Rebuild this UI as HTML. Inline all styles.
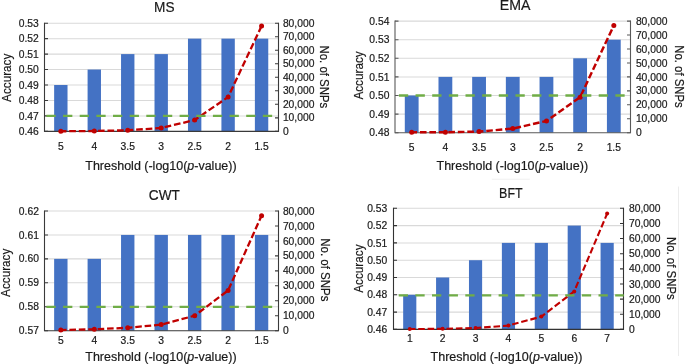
<!DOCTYPE html>
<html><head><meta charset="utf-8"><style>
html,body{margin:0;padding:0;background:#fff;}
svg{display:block;font-family:"Liberation Sans", sans-serif;will-change:transform;}
</style></head><body>
<svg width="685" height="364" viewBox="0 0 685 364">
<rect width="685" height="364" fill="#fff"/>
<g><line x1="44.5" y1="115.9" x2="278.5" y2="115.9" stroke="#d9d9d9" stroke-width="1.05"/><line x1="44.5" y1="100.45" x2="278.5" y2="100.45" stroke="#d9d9d9" stroke-width="1.05"/><line x1="44.5" y1="85" x2="278.5" y2="85" stroke="#d9d9d9" stroke-width="1.05"/><line x1="44.5" y1="69.55" x2="278.5" y2="69.55" stroke="#d9d9d9" stroke-width="1.05"/><line x1="44.5" y1="54.1" x2="278.5" y2="54.1" stroke="#d9d9d9" stroke-width="1.05"/><line x1="44.5" y1="38.65" x2="278.5" y2="38.65" stroke="#d9d9d9" stroke-width="1.05"/><line x1="44.5" y1="23.2" x2="278.5" y2="23.2" stroke="#d9d9d9" stroke-width="1.05"/><rect x="54.14" y="85" width="13.38" height="46.35" fill="#4472C4"/><rect x="87.59" y="69.55" width="13.38" height="61.8" fill="#4472C4"/><rect x="121.05" y="54.1" width="13.38" height="77.25" fill="#4472C4"/><rect x="154.51" y="54.1" width="13.38" height="77.25" fill="#4472C4"/><rect x="187.97" y="38.65" width="13.38" height="92.7" fill="#4472C4"/><rect x="221.42" y="38.65" width="13.38" height="92.7" fill="#4472C4"/><rect x="254.88" y="38.65" width="13.38" height="92.7" fill="#4472C4"/><path d="M44.5 22.7V131.35H278.5V22.7" fill="none" stroke="#3a3a3a" stroke-width="1.1"/><path d="M44.5 131.35h3.5 M44.5 115.9h3.5 M44.5 100.45h3.5 M44.5 85h3.5 M44.5 69.55h3.5 M44.5 54.1h3.5 M44.5 38.65h3.5 M44.5 23.2h3.5 M278.5 131.35h-3.5 M278.5 117.83h-3.5 M278.5 104.31h-3.5 M278.5 90.79h-3.5 M278.5 77.28h-3.5 M278.5 63.76h-3.5 M278.5 50.24h-3.5 M278.5 36.72h-3.5 M278.5 23.2h-3.5" fill="none" stroke="#3a3a3a" stroke-width="1.1"/><path d="M60.83 131.27 L94.29 131 L127.74 130.25 L161.2 128 L194.66 120.05 L228.11 97 L261.57 26" fill="none" stroke="#C00000" stroke-width="2.3" stroke-dasharray="6.69 2.87" stroke-dashoffset="1.15" stroke-linejoin="round"/><circle cx="60.83" cy="131.27" r="2.5" fill="#C00000"/><circle cx="94.29" cy="131" r="2.5" fill="#C00000"/><circle cx="127.74" cy="130.25" r="2.5" fill="#C00000"/><circle cx="161.2" cy="128" r="2.5" fill="#C00000"/><circle cx="194.66" cy="120.05" r="2.5" fill="#C00000"/><circle cx="228.11" cy="97" r="2.5" fill="#C00000"/><circle cx="261.57" cy="26" r="2.5" fill="#C00000"/><line x1="46.4" y1="115.8" x2="277.5" y2="115.8" stroke="#70AD47" stroke-width="2.2" stroke-dasharray="9.3 7.35"/></g>
<g fill="#1a1a1a" stroke="#1a1a1a" stroke-width="0.2"><text x="38.75" y="134.95" text-anchor="end" font-size="10.3">0.46</text><text x="38.75" y="119.5" text-anchor="end" font-size="10.3">0.47</text><text x="38.75" y="104.05" text-anchor="end" font-size="10.3">0.48</text><text x="38.75" y="88.6" text-anchor="end" font-size="10.3">0.49</text><text x="38.75" y="73.15" text-anchor="end" font-size="10.3">0.50</text><text x="38.75" y="57.7" text-anchor="end" font-size="10.3">0.51</text><text x="38.75" y="42.25" text-anchor="end" font-size="10.3">0.52</text><text x="38.75" y="26.8" text-anchor="end" font-size="10.3">0.53</text><text x="282.9" y="134.95" font-size="10.3">0</text><text x="282.9" y="121.43" font-size="10.3">10,000</text><text x="282.9" y="107.91" font-size="10.3">20,000</text><text x="282.9" y="94.39" font-size="10.3">30,000</text><text x="282.9" y="80.88" font-size="10.3">40,000</text><text x="282.9" y="67.36" font-size="10.3">50,000</text><text x="282.9" y="53.84" font-size="10.3">60,000</text><text x="282.9" y="40.32" font-size="10.3">70,000</text><text x="282.9" y="26.8" font-size="10.3">80,000</text><text x="60.83" y="150.2" text-anchor="middle" font-size="10.3">5</text><text x="94.29" y="150.2" text-anchor="middle" font-size="10.3">4</text><text x="127.74" y="150.2" text-anchor="middle" font-size="10.3">3.5</text><text x="161.2" y="150.2" text-anchor="middle" font-size="10.3">3</text><text x="194.66" y="150.2" text-anchor="middle" font-size="10.3">2.5</text><text x="228.11" y="150.2" text-anchor="middle" font-size="10.3">2</text><text x="261.57" y="150.2" text-anchor="middle" font-size="10.3">1.5</text><text x="85.3" y="169.5" font-size="12.5" textLength="151.3" lengthAdjust="spacingAndGlyphs">Threshold (-log10(<tspan font-style="italic">p</tspan>-value))</text><text x="154.05" y="12.3" font-size="15.2" textLength="20.45" lengthAdjust="spacingAndGlyphs">MS</text><text transform="translate(10.9 101.9) rotate(-90)" x="0" y="0" font-size="12.5" textLength="48.25" lengthAdjust="spacingAndGlyphs">Accuracy</text><text transform="translate(319.7 45.5) rotate(90)" x="0" y="0" font-size="12.5" textLength="62.7" lengthAdjust="spacingAndGlyphs">No. of SNPs</text></g>
<g><line x1="395" y1="114.1" x2="630.5" y2="114.1" stroke="#d9d9d9" stroke-width="1.05"/><line x1="395" y1="95.5" x2="630.5" y2="95.5" stroke="#d9d9d9" stroke-width="1.05"/><line x1="395" y1="76.9" x2="630.5" y2="76.9" stroke="#d9d9d9" stroke-width="1.05"/><line x1="395" y1="58.3" x2="630.5" y2="58.3" stroke="#d9d9d9" stroke-width="1.05"/><line x1="395" y1="39.7" x2="630.5" y2="39.7" stroke="#d9d9d9" stroke-width="1.05"/><line x1="395" y1="21.1" x2="630.5" y2="21.1" stroke="#d9d9d9" stroke-width="1.05"/><rect x="404.8" y="95.5" width="13.8" height="37.2" fill="#4472C4"/><rect x="438.49" y="76.9" width="13.8" height="55.8" fill="#4472C4"/><rect x="472.17" y="76.9" width="13.8" height="55.8" fill="#4472C4"/><rect x="505.86" y="76.9" width="13.8" height="55.8" fill="#4472C4"/><rect x="539.55" y="76.9" width="13.8" height="55.8" fill="#4472C4"/><rect x="573.23" y="58.3" width="13.8" height="74.4" fill="#4472C4"/><rect x="606.92" y="39.7" width="13.8" height="93" fill="#4472C4"/><path d="M395 20.6V132.7H630.5V20.6" fill="none" stroke="#595959" stroke-width="1.1"/><path d="M395 132.7h3.5 M395 114.1h3.5 M395 95.5h3.5 M395 76.9h3.5 M395 58.3h3.5 M395 39.7h3.5 M395 21.1h3.5 M630.5 132.7h-3.5 M630.5 118.75h-3.5 M630.5 104.8h-3.5 M630.5 90.85h-3.5 M630.5 76.9h-3.5 M630.5 62.95h-3.5 M630.5 49h-3.5 M630.5 35.05h-3.5 M630.5 21.1h-3.5" fill="none" stroke="#595959" stroke-width="1.1"/><path d="M411.7 132.35 L445.39 132.21 L479.07 131.58 L512.76 128.6 L546.45 120.98 L580.13 97.2 L613.82 25.42" fill="none" stroke="#C00000" stroke-width="2.45" stroke-dasharray="6.64 2.84" stroke-dashoffset="1.28" stroke-linejoin="round"/><circle cx="411.7" cy="132.35" r="2.5" fill="#C00000"/><circle cx="445.39" cy="132.21" r="2.5" fill="#C00000"/><circle cx="479.07" cy="131.58" r="2.5" fill="#C00000"/><circle cx="512.76" cy="128.6" r="2.5" fill="#C00000"/><circle cx="546.45" cy="120.98" r="2.5" fill="#C00000"/><circle cx="580.13" cy="97.2" r="2.5" fill="#C00000"/><circle cx="613.82" cy="25.42" r="2.5" fill="#C00000"/><line x1="398.9" y1="95.5" x2="629.5" y2="95.5" stroke="#70AD47" stroke-width="2.6" stroke-dasharray="9.3 7.35"/></g>
<g fill="#1a1a1a" stroke="#1a1a1a" stroke-width="0.2"><text x="389.4" y="136.3" text-anchor="end" font-size="10.3">0.48</text><text x="389.4" y="117.7" text-anchor="end" font-size="10.3">0.49</text><text x="389.4" y="99.1" text-anchor="end" font-size="10.3">0.50</text><text x="389.4" y="80.5" text-anchor="end" font-size="10.3">0.51</text><text x="389.4" y="61.9" text-anchor="end" font-size="10.3">0.52</text><text x="389.4" y="43.3" text-anchor="end" font-size="10.3">0.53</text><text x="389.4" y="24.7" text-anchor="end" font-size="10.3">0.54</text><text x="635.9" y="136.3" font-size="10.3">0</text><text x="635.9" y="122.35" font-size="10.3">10,000</text><text x="635.9" y="108.4" font-size="10.3">20,000</text><text x="635.9" y="94.45" font-size="10.3">30,000</text><text x="635.9" y="80.5" font-size="10.3">40,000</text><text x="635.9" y="66.55" font-size="10.3">50,000</text><text x="635.9" y="52.6" font-size="10.3">60,000</text><text x="635.9" y="38.65" font-size="10.3">70,000</text><text x="635.9" y="24.7" font-size="10.3">80,000</text><text x="411.7" y="151" text-anchor="middle" font-size="10.3">5</text><text x="445.39" y="151" text-anchor="middle" font-size="10.3">4</text><text x="479.07" y="151" text-anchor="middle" font-size="10.3">3.5</text><text x="512.76" y="151" text-anchor="middle" font-size="10.3">3</text><text x="546.45" y="151" text-anchor="middle" font-size="10.3">2.5</text><text x="580.13" y="151" text-anchor="middle" font-size="10.3">2</text><text x="613.82" y="151" text-anchor="middle" font-size="10.3">1.5</text><text x="436.5" y="170" font-size="12.5" textLength="151.6" lengthAdjust="spacingAndGlyphs">Threshold (-log10(<tspan font-style="italic">p</tspan>-value))</text><text x="499.7" y="10.35" font-size="15.2" textLength="30.7" lengthAdjust="spacingAndGlyphs">EMA</text><text transform="translate(363.2 99.6) rotate(-90)" x="0" y="0" font-size="12.5" textLength="48.3" lengthAdjust="spacingAndGlyphs">Accuracy</text><text transform="translate(675.1 45.3) rotate(90)" x="0" y="0" font-size="12.5" textLength="62.4" lengthAdjust="spacingAndGlyphs">No. of SNPs</text></g>
<g><line x1="44.5" y1="306.76" x2="278.5" y2="306.76" stroke="#d9d9d9" stroke-width="1.05"/><line x1="44.5" y1="282.82" x2="278.5" y2="282.82" stroke="#d9d9d9" stroke-width="1.05"/><line x1="44.5" y1="258.88" x2="278.5" y2="258.88" stroke="#d9d9d9" stroke-width="1.05"/><line x1="44.5" y1="234.94" x2="278.5" y2="234.94" stroke="#d9d9d9" stroke-width="1.05"/><line x1="44.5" y1="211" x2="278.5" y2="211" stroke="#d9d9d9" stroke-width="1.05"/><rect x="54.14" y="258.88" width="13.38" height="71.82" fill="#4472C4"/><rect x="87.59" y="258.88" width="13.38" height="71.82" fill="#4472C4"/><rect x="121.05" y="234.94" width="13.38" height="95.76" fill="#4472C4"/><rect x="154.51" y="234.94" width="13.38" height="95.76" fill="#4472C4"/><rect x="187.97" y="234.94" width="13.38" height="95.76" fill="#4472C4"/><rect x="221.42" y="234.94" width="13.38" height="95.76" fill="#4472C4"/><rect x="254.88" y="234.94" width="13.38" height="95.76" fill="#4472C4"/><path d="M44.5 210.5V330.7H278.5V210.5" fill="none" stroke="#3a3a3a" stroke-width="1.1"/><path d="M44.5 330.7h3.5 M44.5 306.76h3.5 M44.5 282.82h3.5 M44.5 258.88h3.5 M44.5 234.94h3.5 M44.5 211h3.5 M278.5 330.7h-3.5 M278.5 315.74h-3.5 M278.5 300.77h-3.5 M278.5 285.81h-3.5 M278.5 270.85h-3.5 M278.5 255.89h-3.5 M278.5 240.93h-3.5 M278.5 225.96h-3.5 M278.5 211h-3.5" fill="none" stroke="#3a3a3a" stroke-width="1.1"/><path d="M60.83 330.06 L94.29 329.29 L127.74 327.8 L161.2 324.6 L194.66 315.69 L228.11 290.45 L261.57 215.64" fill="none" stroke="#C00000" stroke-width="2.3" stroke-dasharray="6.59 2.83" stroke-dashoffset="0.85" stroke-linejoin="round"/><circle cx="60.83" cy="330.06" r="2.5" fill="#C00000"/><circle cx="94.29" cy="329.29" r="2.5" fill="#C00000"/><circle cx="127.74" cy="327.8" r="2.5" fill="#C00000"/><circle cx="161.2" cy="324.6" r="2.5" fill="#C00000"/><circle cx="194.66" cy="315.69" r="2.5" fill="#C00000"/><circle cx="228.11" cy="290.45" r="2.5" fill="#C00000"/><circle cx="261.57" cy="215.64" r="2.5" fill="#C00000"/><line x1="46.4" y1="306.8" x2="277.5" y2="306.8" stroke="#70AD47" stroke-width="2.2" stroke-dasharray="9.3 7.35"/></g>
<g fill="#1a1a1a" stroke="#1a1a1a" stroke-width="0.2"><text x="38.9" y="334.3" text-anchor="end" font-size="10.3">0.57</text><text x="38.9" y="310.36" text-anchor="end" font-size="10.3">0.58</text><text x="38.9" y="286.42" text-anchor="end" font-size="10.3">0.59</text><text x="38.9" y="262.48" text-anchor="end" font-size="10.3">0.60</text><text x="38.9" y="238.54" text-anchor="end" font-size="10.3">0.61</text><text x="38.9" y="214.6" text-anchor="end" font-size="10.3">0.62</text><text x="282.9" y="334.3" font-size="10.3">0</text><text x="282.9" y="319.34" font-size="10.3">10,000</text><text x="282.9" y="304.38" font-size="10.3">20,000</text><text x="282.9" y="289.41" font-size="10.3">30,000</text><text x="282.9" y="274.45" font-size="10.3">40,000</text><text x="282.9" y="259.49" font-size="10.3">50,000</text><text x="282.9" y="244.53" font-size="10.3">60,000</text><text x="282.9" y="229.56" font-size="10.3">70,000</text><text x="282.9" y="214.6" font-size="10.3">80,000</text><text x="60.83" y="344" text-anchor="middle" font-size="10.3">5</text><text x="94.29" y="344" text-anchor="middle" font-size="10.3">4</text><text x="127.74" y="344" text-anchor="middle" font-size="10.3">3.5</text><text x="161.2" y="344" text-anchor="middle" font-size="10.3">3</text><text x="194.66" y="344" text-anchor="middle" font-size="10.3">2.5</text><text x="228.11" y="344" text-anchor="middle" font-size="10.3">2</text><text x="261.57" y="344" text-anchor="middle" font-size="10.3">1.5</text><text x="85.3" y="361.3" font-size="12.5" textLength="151.3" lengthAdjust="spacingAndGlyphs">Threshold (-log10(<tspan font-style="italic">p</tspan>-value))</text><text x="148.8" y="199.6" font-size="15.2" textLength="31" lengthAdjust="spacingAndGlyphs">CWT</text><text transform="translate(9.8 296.9) rotate(-90)" x="0" y="0" font-size="12.5" textLength="48.25" lengthAdjust="spacingAndGlyphs">Accuracy</text><text transform="translate(321.1 238.25) rotate(90)" x="0" y="0" font-size="12.5" textLength="63.25" lengthAdjust="spacingAndGlyphs">No. of SNPs</text></g>
<g><line x1="393.5" y1="312.1" x2="623.5" y2="312.1" stroke="#d9d9d9" stroke-width="1.05"/><line x1="393.5" y1="294.8" x2="623.5" y2="294.8" stroke="#d9d9d9" stroke-width="1.05"/><line x1="393.5" y1="277.5" x2="623.5" y2="277.5" stroke="#d9d9d9" stroke-width="1.05"/><line x1="393.5" y1="260.2" x2="623.5" y2="260.2" stroke="#d9d9d9" stroke-width="1.05"/><line x1="393.5" y1="242.9" x2="623.5" y2="242.9" stroke="#d9d9d9" stroke-width="1.05"/><line x1="393.5" y1="225.6" x2="623.5" y2="225.6" stroke="#d9d9d9" stroke-width="1.05"/><line x1="393.5" y1="208.3" x2="623.5" y2="208.3" stroke="#d9d9d9" stroke-width="1.05"/><rect x="403.17" y="294.8" width="13.16" height="34.6" fill="#4472C4"/><rect x="436.07" y="277.5" width="13.16" height="51.9" fill="#4472C4"/><rect x="468.97" y="260.2" width="13.16" height="69.2" fill="#4472C4"/><rect x="501.87" y="242.9" width="13.16" height="86.5" fill="#4472C4"/><rect x="534.77" y="242.9" width="13.16" height="86.5" fill="#4472C4"/><rect x="567.67" y="225.6" width="13.16" height="103.8" fill="#4472C4"/><rect x="600.57" y="242.9" width="13.16" height="86.5" fill="#4472C4"/><path d="M393.5 207.8V329.4H623.5V207.8" fill="none" stroke="#333333" stroke-width="1.1"/><path d="M393.5 329.4h3.5 M393.5 312.1h3.5 M393.5 294.8h3.5 M393.5 277.5h3.5 M393.5 260.2h3.5 M393.5 242.9h3.5 M393.5 225.6h3.5 M393.5 208.3h3.5 M623.5 329.4h-3.5 M623.5 314.26h-3.5 M623.5 299.12h-3.5 M623.5 283.99h-3.5 M623.5 268.85h-3.5 M623.5 253.71h-3.5 M623.5 238.57h-3.5 M623.5 223.44h-3.5 M623.5 208.3h-3.5" fill="none" stroke="#333333" stroke-width="1.1"/><path d="M409.75 329.05 L442.65 328.8 L475.55 328 L508.45 325.6 L541.35 316.6 L574.25 291.4 L607.15 213.6" fill="none" stroke="#C00000" stroke-width="2.1" stroke-dasharray="6.59 2.83" stroke-dashoffset="0.97" stroke-linejoin="round"/><circle cx="409.75" cy="329.05" r="2.0" fill="#C00000"/><circle cx="442.65" cy="328.8" r="2.0" fill="#C00000"/><circle cx="475.55" cy="328" r="2.0" fill="#C00000"/><circle cx="508.45" cy="325.6" r="2.0" fill="#C00000"/><circle cx="541.35" cy="316.6" r="2.0" fill="#C00000"/><circle cx="574.25" cy="291.4" r="2.0" fill="#C00000"/><circle cx="607.15" cy="213.6" r="2.0" fill="#C00000"/><line x1="398.7" y1="295.3" x2="623.8" y2="295.3" stroke="#70AD47" stroke-width="2.2" stroke-dasharray="9.3 7.35"/></g>
<g fill="#1a1a1a" stroke="#1a1a1a" stroke-width="0.2"><text x="387.2" y="333" text-anchor="end" font-size="10.3">0.46</text><text x="387.2" y="315.7" text-anchor="end" font-size="10.3">0.47</text><text x="387.2" y="298.4" text-anchor="end" font-size="10.3">0.48</text><text x="387.2" y="281.1" text-anchor="end" font-size="10.3">0.49</text><text x="387.2" y="263.8" text-anchor="end" font-size="10.3">0.50</text><text x="387.2" y="246.5" text-anchor="end" font-size="10.3">0.51</text><text x="387.2" y="229.2" text-anchor="end" font-size="10.3">0.52</text><text x="387.2" y="211.9" text-anchor="end" font-size="10.3">0.53</text><text x="629" y="333" font-size="10.3">0</text><text x="629" y="317.86" font-size="10.3">10,000</text><text x="629" y="302.73" font-size="10.3">20,000</text><text x="629" y="287.59" font-size="10.3">30,000</text><text x="629" y="272.45" font-size="10.3">40,000</text><text x="629" y="257.31" font-size="10.3">50,000</text><text x="629" y="242.17" font-size="10.3">60,000</text><text x="629" y="227.04" font-size="10.3">70,000</text><text x="629" y="211.9" font-size="10.3">80,000</text><text x="409.75" y="341.8" text-anchor="middle" font-size="10.3">1</text><text x="442.65" y="341.8" text-anchor="middle" font-size="10.3">2</text><text x="475.55" y="341.8" text-anchor="middle" font-size="10.3">3</text><text x="508.45" y="341.8" text-anchor="middle" font-size="10.3">4</text><text x="541.35" y="341.8" text-anchor="middle" font-size="10.3">5</text><text x="574.25" y="341.8" text-anchor="middle" font-size="10.3">6</text><text x="607.15" y="341.8" text-anchor="middle" font-size="10.3">7</text><text x="430.5" y="361" font-size="12.5" textLength="151.9" lengthAdjust="spacingAndGlyphs">Threshold (-log10(<tspan font-style="italic">p</tspan>-value))</text><text x="499.1" y="197.5" font-size="15.2" textLength="23.6" lengthAdjust="spacingAndGlyphs">BFT</text><text transform="translate(362.5 292.7) rotate(-90)" x="0" y="0" font-size="12.5" textLength="48.2" lengthAdjust="spacingAndGlyphs">Accuracy</text><text transform="translate(667.2 236.9) rotate(90)" x="0" y="0" font-size="12.5" textLength="62.9" lengthAdjust="spacingAndGlyphs">No. of SNPs</text></g>
<line x1="491.8" y1="179.2" x2="529.9" y2="179.2" stroke="#f0f0f0" stroke-width="1"/>
<line x1="678.5" y1="186.5" x2="678.5" y2="356" stroke="#ececec" stroke-width="1"/>
</svg>
</body></html>
